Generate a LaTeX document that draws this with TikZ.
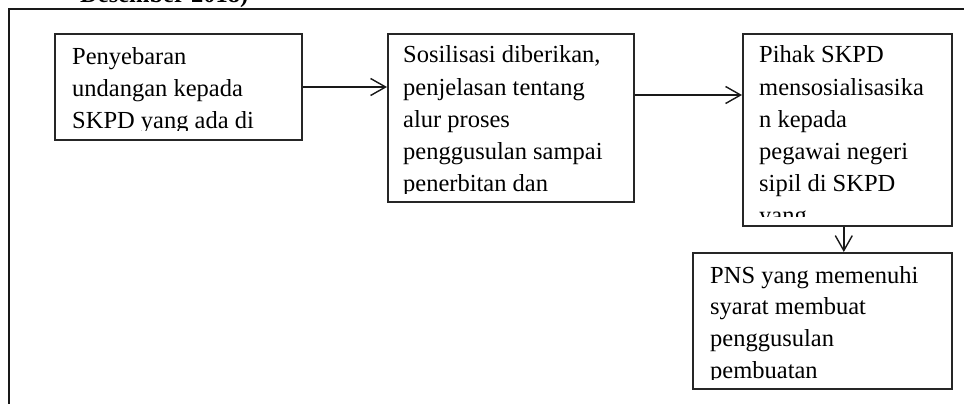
\documentclass[tikz,border=0pt]{standalone}
\usepackage{fontspec}
\setmainfont{Liberation Serif}
\usetikzlibrary{arrows.meta}
\begin{document}
\begin{tikzpicture}[x=1pt,y=-1pt,
  box/.style={draw=black!85, line width=1.6pt, inner sep=0pt, anchor=north west},
  txt/.style={anchor=base west, inner sep=0pt},
  arr/.style={draw=black!90, line width=1.4pt, -{Straight Barb[length=15pt,width=17pt,line width=1.4pt]}},
  frame/.style={draw=black!90, line width=1.8pt}]
\clip (0,0) rectangle (964,404);
\fill[white] (0,0) rectangle (964,404);
% header (cut off at the top)
\node[txt, font=\bfseries\fontsize{24.5}{30}\selectfont] (hdr) at (80,3) {Desember 2018)};
% outer frame
\coordinate (fbl) at (9,420);
\coordinate (ftl) at (9,9);
\coordinate (ftr) at (980,9);
\draw[frame] (fbl) -- (ftl) -- (ftr);
% boxes
\node[box, minimum width=247pt, minimum height=106pt] (b1) at (54,33) {};
\node[box, minimum width=246pt, minimum height=168pt] (b2) at (387,33) {};
\node[box, minimum width=209pt, minimum height=192pt] (b3) at (742,33) {};
\node[box, minimum width=259pt, minimum height=136pt] (b4) at (692,252) {};
% texts, clipped at the bottom as in the reference
\begin{scope}
\clip (54,33) rectangle (301,130);
\node[txt] (t1) at (72,65) {\parbox[t]{300pt}{\fontsize{24.5}{31.8}\selectfont
Penyebaran\\undangan kepada\\SKPD yang ada di\\Kota}};
\end{scope}
\begin{scope}
\clip (387,33) rectangle (633,193);
\node[txt] (t2) at (403,63) {\parbox[t]{300pt}{\fontsize{24.5}{32.2}\selectfont
Sosilisasi diberikan,\\penjelasan tentang\\alur proses\\penggusulan sampai\\penerbitan dan}};
\end{scope}
\begin{scope}
\clip (742,33) rectangle (951,216);
\node[txt] (t3) at (759,63) {\parbox[t]{300pt}{\fontsize{24.5}{32.2}\selectfont
Pihak SKPD\\mensosialisasika\\n kepada\\pegawai negeri\\sipil di SKPD\\yang}};
\end{scope}
\begin{scope}
\clip (692,252) rectangle (951,379);
\node[txt] (t4) at (710,283) {\parbox[t]{300pt}{\fontsize{24.5}{31.8}\selectfont
PNS yang memenuhi\\syarat membuat\\penggusulan\\pembuatan}};
\end{scope}
% connectors
\draw[arr] ([yshift=-54pt]b1.north east) -- ([yshift=-54pt]b2.north west);
\draw[arr] ([yshift=-62pt]b2.north east) -- ([yshift=-62pt]b3.north west);
\draw[arr] ([xshift=-3.5pt]b3.south) -- ([xshift=-3.5pt]b3.south |- b4.north);
\end{tikzpicture}
\end{document}
